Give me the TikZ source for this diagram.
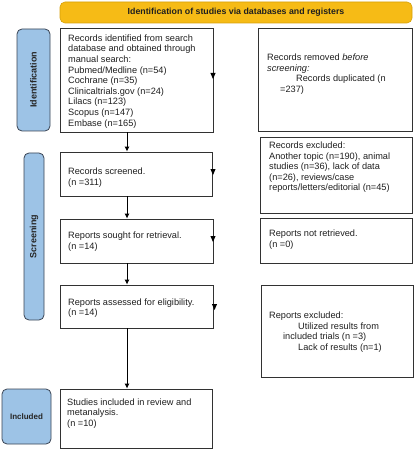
\documentclass[tikz,border=0pt]{standalone}
\usepackage{fontspec}
\setmainfont{Liberation Sans}
\usetikzlibrary{arrows.meta}
\definecolor{bannerfill}{RGB}{246,187,22}
\definecolor{bannerdraw}{RGB}{214,160,10}
\definecolor{labfill}{RGB}{157,195,230}
\definecolor{labdraw}{RGB}{58,68,84}
\definecolor{boxdraw}{RGB}{50,50,50}
\tikzset{
  box/.style={draw=boxdraw, line width=0.8pt, rectangle, inner sep=0pt},
  txt/.style={inner sep=0pt, anchor=north west, align=left, text=black!88,
    font=\fontsize{9.2}{10.6}\selectfont},
  lab/.style={draw=labdraw, fill=labfill, line width=0.8pt, rounded corners=5pt, inner sep=0pt,
    font=\bfseries\fontsize{8.6}{10}\selectfont, text=black!85},
  banner/.style={draw=bannerdraw, fill=bannerfill, line width=0.6pt, rounded corners=5pt, inner sep=0pt,
    font=\bfseries\fontsize{8.8}{10}\selectfont, text=black!88},
  arr/.style={draw=black, line width=0.9pt, -{Latex[length=5pt,width=5pt]}},
  tip/.style={fill=black}
}
\begin{document}
\begin{tikzpicture}[x=1pt,y=-1pt]
\useasboundingbox (0,0) rectangle (415,449);
% banner
\node[banner, minimum width=352pt, minimum height=21pt] (ban) at (236,12.5) {Identification of studies via databases and registers};
% side labels
\node[lab, minimum width=33pt, minimum height=102pt] (lid) at (33.5,80) {};
\node[rotate=90, font=\bfseries\fontsize{9}{10}\selectfont, text=black!85] (lidt) at (lid.center) {Identification};
\node[lab, minimum width=20pt, minimum height=167pt] (lsc) at (34,236.5) {};
\node[rotate=90, font=\bfseries\fontsize{9}{10}\selectfont, text=black!85] (lsct) at (lsc.center) {Screening};
\node[lab, minimum width=49pt, minimum height=55pt, font=\bfseries\fontsize{8}{10}\selectfont] (lin) at (26.5,416.5) {Included};
% left boxes
\node[box, minimum width=153pt, minimum height=104pt] (b1) at (136.5,80) {};
\node[box, minimum width=152pt, minimum height=44pt] (scr) at (136,174) {};
\node[box, minimum width=153pt, minimum height=44pt] (sou) at (136.5,241) {};
\node[box, minimum width=153pt, minimum height=43pt] (ass) at (136.5,306.5) {};
\node[box, minimum width=152pt, minimum height=59pt] (inc) at (136,418.5) {};
% right boxes
\node[box, minimum width=154pt, minimum height=103pt] (r1) at (335,79.5) {};
\node[box, minimum width=152pt, minimum height=76pt] (rex) at (336,175) {};
\node[box, minimum width=152pt, minimum height=45pt] (rnr) at (336,240.5) {};
\node[box, minimum width=152pt, minimum height=92pt] (rpx) at (337,331) {};
% texts
\node[txt] (t1) at (68,34.5) {Records identified from search\\database and obtained through\\manual search:\\Pubmed/Medline (n=54)\\Cochrane (n=35)\\Clinicaltrials.gov (n=24)\\Lilacs (n=123)\\Scopus (n=147)\\Embase (n=165)};
\node[txt] (t2) at (68,167.6) {Records screened.\\(n =311)};
\node[txt] (t3) at (68,231.6) {Reports sought for retrieval.\\(n =14)};
\node[txt] (t4) at (68,298.3) {Reports assessed for eligibility.\\(n =14)};
\node[txt] (t5) at (67,398.3) {Studies included in review and\\metanalysis.\\(n =10)};
\node[txt] (t6) at (267,53.6) {Records removed \textit{before}\\\textit{screening:}\\\hspace*{29pt}Records duplicated (n\\\hspace*{13pt}=237)};
\node[txt] (t7) at (269,141.6) {Records excluded:\\Another topic (n=190), animal\\studies (n=36), lack of data\\(n=26), reviews/case\\reports/letters/editorial (n=45)};
\node[txt] (t8) at (269,229.6) {Reports not retrieved.\\(n =0)};
\node[txt] (t9) at (269,311.6) {Reports excluded:\\\hspace*{29pt}Utilized results from\\\hspace*{14pt}included trials (n =3)\\\hspace*{29pt}Lack of results (n=1)};
% vertical arrows
\coordinate (ax) at (127,0);
\draw[arr] (b1.south -| ax) -- (scr.north -| ax);
\draw[arr] (scr.south -| ax) -- (sou.north -| ax);
\draw[arr] (sou.south -| ax) -- (ass.north -| ax);
\draw[arr] (ass.south -| ax) -- (inc.north -| ax);
% small arrow tips at right edges
\foreach \x/\y in {213/76, 213/172, 213/239, 214.5/307}{
  \fill[tip] (\x-2.6,\y-3) -- (\x+2.6,\y-3) -- (\x,\y+3) -- cycle;
}
\end{tikzpicture}
\end{document}
